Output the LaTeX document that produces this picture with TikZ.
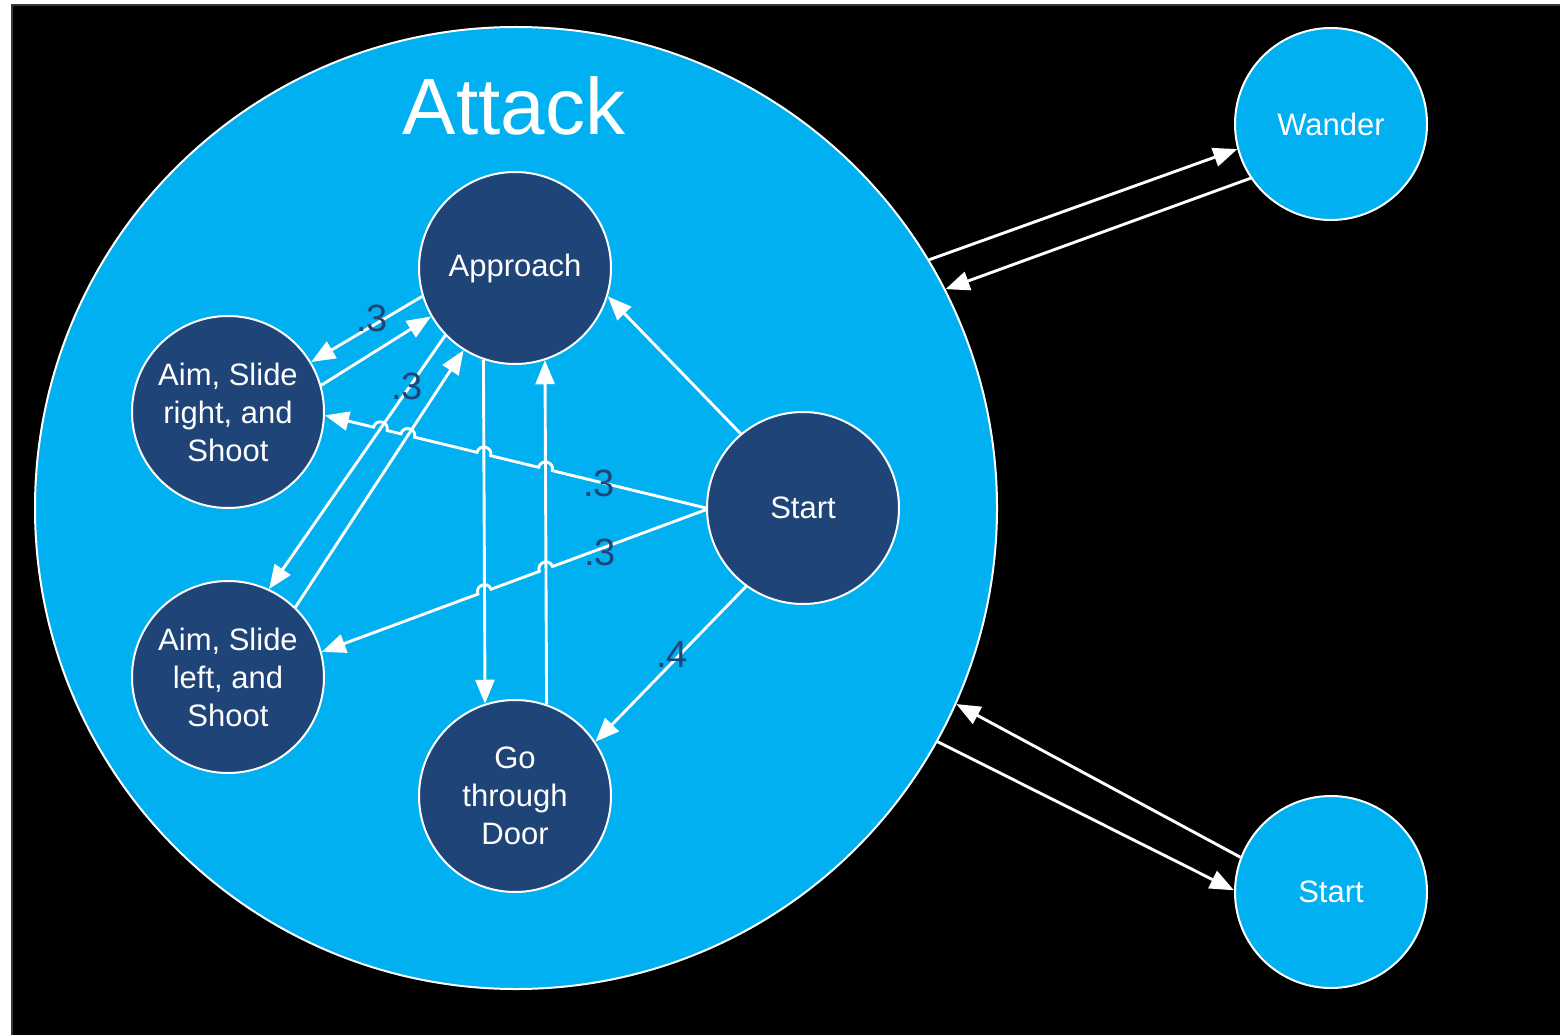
\documentclass[tikz,border=0pt]{standalone}
\usepackage{fontspec}
\setmainfont{Liberation Sans}
\usetikzlibrary{arrows.meta,calc,intersections}
\definecolor{skyfill}{HTML}{00B0F0}
\definecolor{navyfill}{HTML}{1F4478}
\begin{document}
\begin{tikzpicture}[x=1pt,y=-1pt,
  state/.style={circle, fill=navyfill, draw=white, line width=2pt,
    minimum size=192pt, inner sep=0pt, text=white, align=center,
    font=\fontsize{31}{38}\selectfont},
  outerstate/.style={state, fill=skyfill},
  link/.style={draw=white, line width=2.9pt,
    -{Triangle[length=24pt,width=19pt]}},
  prob/.style={text=navyfill, font=\fontsize{38}{44}\selectfont, inner sep=0pt},
  hopover/.style={out=-90,in=-90,relative,looseness=1.7}
]
\useasboundingbox (0,0) rectangle (1560,1035);
% page and dark backdrop
\fill[white] (0,0) rectangle (1560,1035);
\draw[fill=black, draw=black!78, line width=2pt] (12,5) rectangle (1566,1041);

% the Attack super-state
\node[outerstate, minimum size=962pt] (atk) at (516,508) {};
\node[font=\fontsize{80}{96}\selectfont, text=white, anchor=base] (title) at (514,135) {Attack};

% inner states
\node[state] (ap) at (515,268) {Approach};
\node[state] (ar) at (228,412) {Aim, Slide\\right, and\\Shoot};
\node[state] (al) at (228,677) {Aim, Slide\\left, and\\Shoot};
\node[state] (gd) at (515,796) {Go\\through\\Door};
\node[state] (st) at (803,508) {Start};

% outer states
\node[outerstate] (wa) at (1331,124) {Wander};
\node[outerstate] (so) at (1331,892) {Start};

% transitions inside Attack
\draw[link] (ap.197) -- (ar.31);
\draw[link] (ar.16) -- (ap.210.5);
\draw[link, name path=e3] (ap.224) -- (al.65);
\draw[link, name path=e4] (al.46) -- (ap.238);
\draw[link, name path=v1] (ap.251.2) -- (gd.108.8);
\draw[link, name path=v2] (gd.71.2) -- (ap.288.8);
\draw[link] (st.130) -- (ap.-17);
\draw[link] (st.234.5) -- (gd.34);

% crossing points for the line jumps
\path[name path=b1] (st.180) -- (ar.-2);
\path[name path=b2] (st.181) -- (al.15);
\path[name intersections={of=b1 and v2, by=p1}];
\path[name intersections={of=b1 and v1, by=p2}];
\path[name intersections={of=b1 and e4, by=p3}];
\path[name intersections={of=b1 and e3, by=p4}];
\path[name intersections={of=b2 and v2, by=q1}];
\path[name intersections={of=b2 and v1, by=q2}];

\draw[link] (st.180)
  -- ($(p1)!7pt!(st.180)$) to[hopover] ($(p1)!7pt!(ar.-2)$)
  -- ($(p2)!7pt!(st.180)$) to[hopover] ($(p2)!7pt!(ar.-2)$)
  -- ($(p3)!7pt!(st.180)$) to[hopover] ($(p3)!7pt!(ar.-2)$)
  -- ($(p4)!7pt!(st.180)$) to[hopover] ($(p4)!7pt!(ar.-2)$)
  -- (ar.-2);
\draw[link] (st.181)
  -- ($(q1)!7pt!(st.181)$) to[hopover] ($(q1)!7pt!(al.15)$)
  -- ($(q2)!7pt!(st.181)$) to[hopover] ($(q2)!7pt!(al.15)$)
  -- (al.15);

% probabilities
\node[prob] (l1) at (372,318) {.3};
\node[prob] (l2) at (407,386) {.3};
\node[prob] (l3) at (599,483) {.3};
\node[prob] (l4) at (600,552) {.3};
\node[prob] (l5) at (672,654) {.4};

% transitions to and from the outer states
\draw[link] (atk.31.5) -- (wa.195);
\draw[link] (wa.214.7) -- (atk.27.8);
\draw[link] (atk.-29.4) -- (so.179);
\draw[link] (so.159) -- (atk.-24.3);
\end{tikzpicture}
\end{document}
